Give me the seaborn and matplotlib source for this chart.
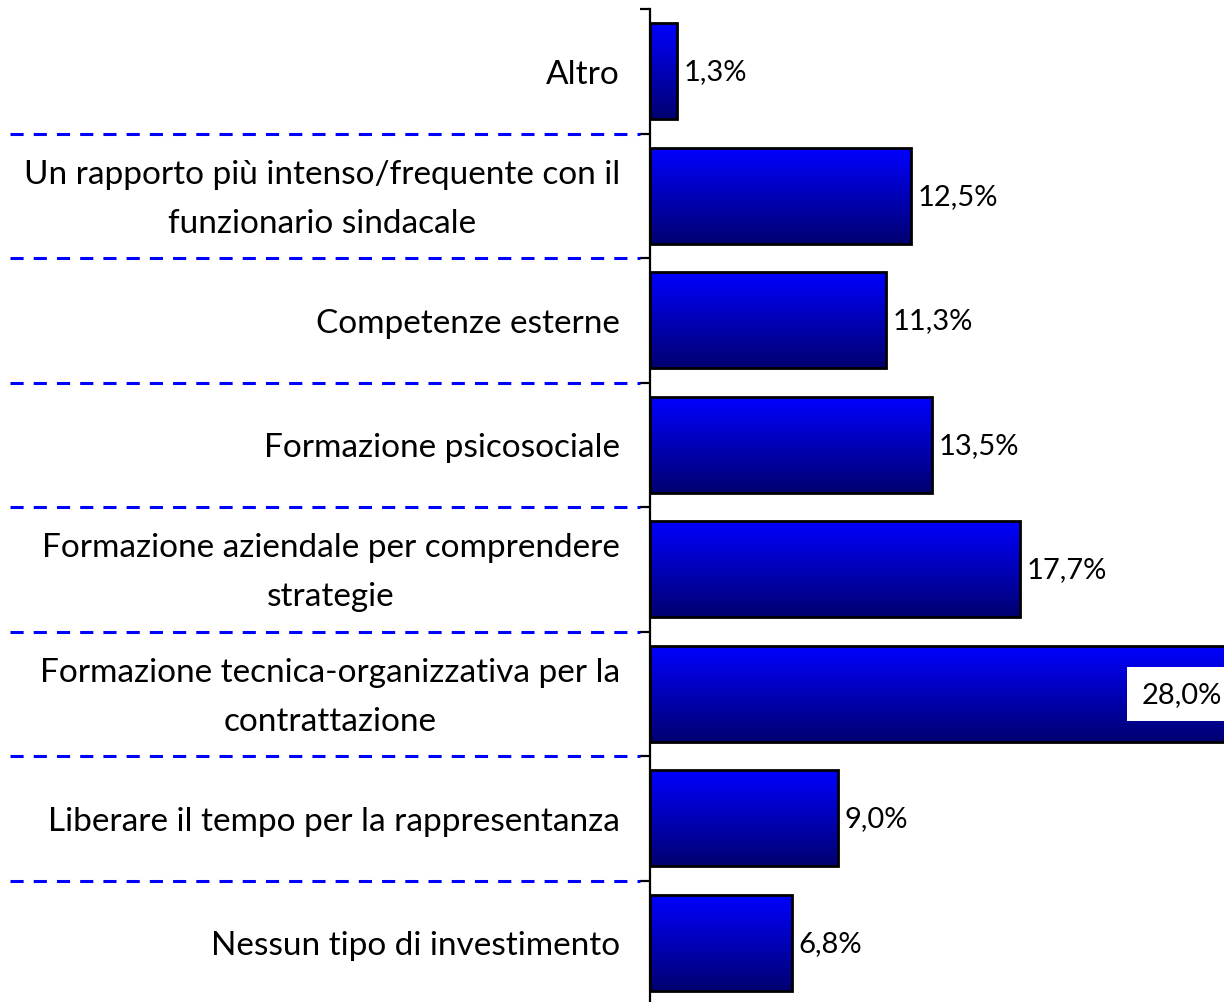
import numpy as np
import pandas as pd
import matplotlib
matplotlib.use("Agg")
import matplotlib.pyplot as plt
import matplotlib.transforms as mtransforms
from matplotlib.colors import LinearSegmentedColormap
import seaborn as sns

categories = [
    "Altro",
    "Un rapporto più intenso/frequente con il\nfunzionario sindacale",
    "Competenze esterne",
    "Formazione psicosociale",
    "Formazione aziendale per comprendere\nstrategie",
    "Formazione tecnica-organizzativa per la\ncontrattazione",
    "Liberare il tempo per la rappresentanza",
    "Nessun tipo di investimento",
]
values = [1.3, 12.5, 11.3, 13.5, 17.7, 28.0, 9.0, 6.8]
value_labels = ["1,3%", "12,5%", "11,3%", "13,5%", "17,7%", "28,0%", "9,0%", "6,8%"]

sns.set_style("white")
plt.rcParams["font.family"] = ["Lato", "DejaVu Sans"]
plt.rcParams["text.color"] = "black"
plt.rcParams["ytick.color"] = "black"

df = pd.DataFrame({"cat": categories, "val": values})

fig = plt.figure(figsize=(12.24, 10.03), dpi=100)
# axis starts at x=650px, extends past the right edge (the 28% bar is clipped)
ax = fig.add_axes([650 / 1224, -3 / 1003, 627 / 1224, 996 / 1003])

sns.barplot(data=df, x="val", y="cat", orient="h", width=0.77,
            color="#0000ff", edgecolor="black", linewidth=2, ax=ax)

# vertical gradient in each bar: bright blue on top, navy at the bottom
cmap = LinearSegmentedColormap.from_list("bl", ["#0000ff", "#000070"])
grad = np.linspace(0, 1, 256).reshape(-1, 1)
for p in ax.patches:
    x0, y0 = p.get_x(), p.get_y()
    w, h = p.get_width(), p.get_height()
    im = ax.imshow(grad, cmap=cmap, aspect="auto", origin="upper",
                   extent=[x0, x0 + w, y0 + h, y0], zorder=2)
    im.set_clip_path(p)
    p.set_facecolor("none")
    p.set_zorder(3)
ax.set_xlim(0, 30)
ax.set_ylim(7.5, -0.5)

# value labels
for i, (v, lab) in enumerate(zip(values, value_labels)):
    if v > 25:
        ax.text(27.35, i, lab, ha="right", va="center", fontsize=21, zorder=5,
                bbox=dict(facecolor="white", edgecolor="none", pad=10))
    else:
        ax.text(v + 0.3, i, lab, ha="left", va="center", fontsize=21, zorder=5)

# category labels drawn as text so the line spacing can be set
ylab_trans = ax.get_yaxis_transform()
for i, c in enumerate(categories):
    ax.text(-30 / 627, i + 0.02, c, transform=ylab_trans, ha="right", va="center",
            multialignment="center", linespacing=1.8, fontsize=24, clip_on=False)

# axes styling
for s in ["top", "right", "bottom"]:
    ax.spines[s].set_visible(False)
ax.spines["left"].set_linewidth(1.6)
ax.spines["left"].set_color("black")
ax.set_xticks([])
ax.set_xlabel("")
ax.set_ylabel("")
ax.set_yticks([])
ax.set_yticks(np.arange(-0.5, 8.0, 1.0), minor=True)
ax.tick_params(axis="y", which="minor", left=True, length=7, width=1.6,
               direction="out", color="black")

# dashed separators on the label side
trans = mtransforms.blended_transform_factory(fig.transFigure, ax.transData)
for b in np.arange(0.5, 7.0, 1.0):
    ax.plot([10 / 1224, 640 / 1224], [b, b], transform=trans, color="#0000ff",
            linewidth=2.2, dashes=(4.3, 3.3), clip_on=False)

fig.savefig("out.png", dpi=100)
